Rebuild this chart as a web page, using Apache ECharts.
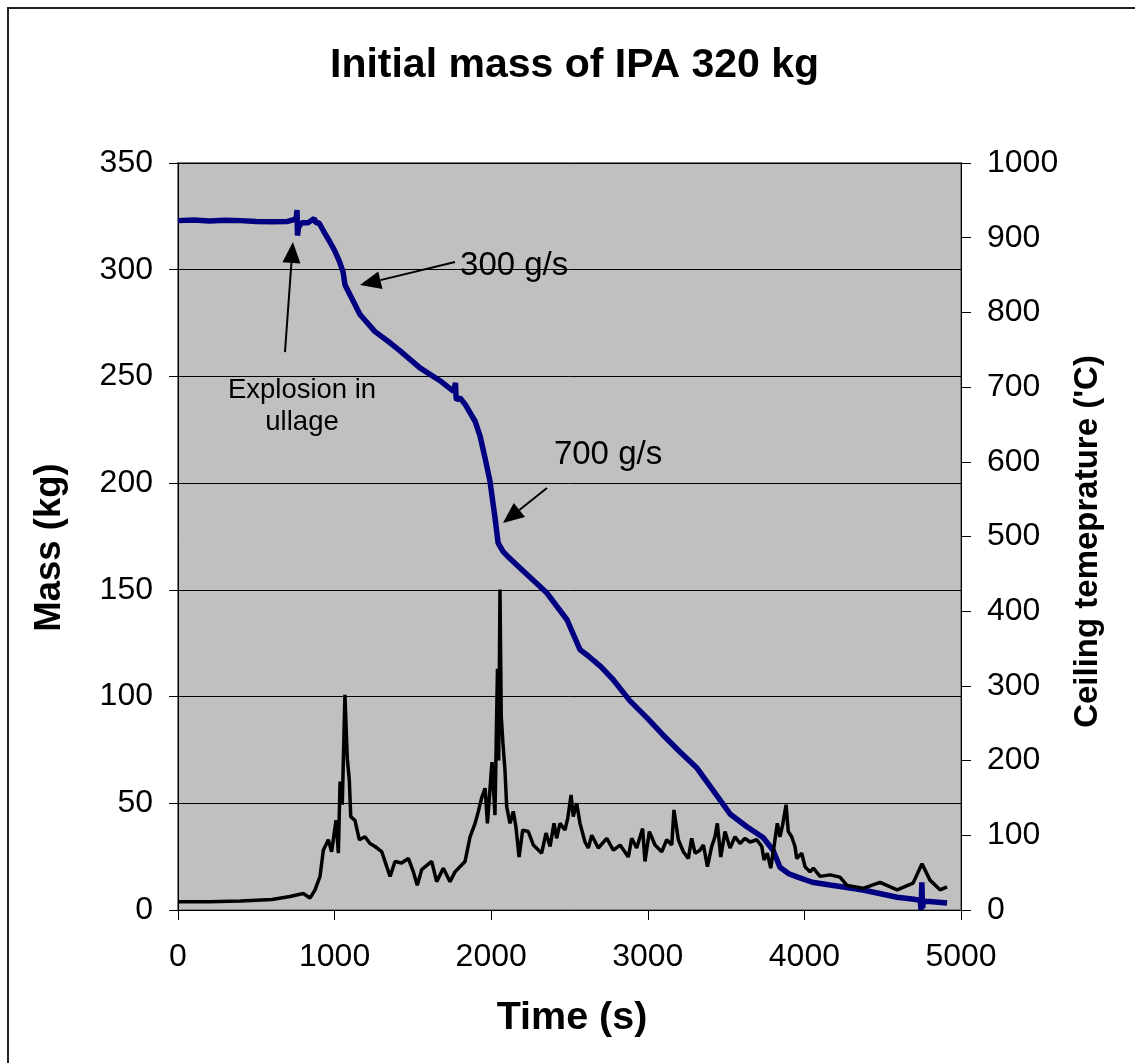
<!DOCTYPE html>
<html><head><meta charset="utf-8">
<script src="https://cdn.jsdelivr.net/npm/echarts@6/dist/echarts.min.js"></script>
<style>html,body{margin:0;padding:0;background:#fff}#c{width:1135px;height:1063px}</style>
</head><body><div id="c"></div>
<script>
const titleText = 'Initial mass of IPA 320 kg';
const xTicks = [0, 1000, 2000, 3000, 4000, 5000];
const massTicks = [0, 50, 100, 150, 200, 250, 300, 350];
const tempTicks = [0, 100, 200, 300, 400, 500, 600, 700, 800, 900, 1000];

const massTime = [0, 100, 200, 300, 400, 500, 600, 700, 740, 755, 760, 763, 770, 790, 830, 870, 880, 900, 930, 970, 1000, 1030, 1054, 1066, 1100, 1162, 1258, 1350, 1418, 1545, 1673, 1760, 1772, 1776, 1780, 1800, 1833, 1897, 1929, 1960, 1992, 2024, 2044, 2075, 2101, 2203, 2356, 2484, 2567, 2620, 2700, 2778, 2886, 2995, 3097, 3206, 3314, 3417, 3525, 3633, 3736, 3800, 3844, 3900, 3953, 4050, 4164, 4375, 4592, 4700, 4740, 4745, 4750, 4755, 4760, 4800, 4911];
const massKg = [323, 323.3, 322.8, 323.2, 323, 322.6, 322.5, 322.6, 323.5, 324, 328, 316, 320, 322, 322, 324, 322, 322, 318, 313, 309, 304, 299, 293, 288, 279, 271, 266, 262, 254, 248, 243, 247, 240, 239, 240, 237, 229, 222, 212, 201, 184, 172, 168, 166, 159, 148.5, 136, 122, 119, 114, 108, 98, 90, 82, 74, 66.5, 56, 45, 39, 34, 28, 20, 17, 15.5, 13, 11.7, 9.4, 6, 5, 4.5, 0, 13, 1, 4, 4, 3.3];

const tempTime = [0, 200, 400, 600, 715, 800, 843, 875, 907, 928, 960, 981, 1009, 1024, 1035, 1049, 1066, 1081, 1094, 1103, 1130, 1158, 1194, 1226, 1258, 1301, 1333, 1354, 1386, 1428, 1471, 1503, 1528, 1556, 1620, 1652, 1694, 1737, 1769, 1833, 1865, 1897, 1918, 1939, 1961, 1976, 2005, 2024, 2040, 2048, 2056, 2064, 2075, 2088, 2099, 2120, 2141, 2158, 2178, 2201, 2237, 2269, 2322, 2350, 2376, 2401, 2418, 2439, 2471, 2489, 2510, 2524, 2546, 2567, 2599, 2620, 2642, 2684, 2738, 2780, 2823, 2876, 2897, 2929, 2967, 2982, 3010, 3046, 3089, 3121, 3153, 3167, 3195, 3227, 3259, 3280, 3302, 3333, 3355, 3381, 3408, 3429, 3444, 3466, 3493, 3525, 3557, 3589, 3621, 3653, 3696, 3728, 3742, 3763, 3785, 3806, 3827, 3844, 3861, 3883, 3897, 3919, 3940, 3951, 3983, 4004, 4036, 4057, 4100, 4164, 4227, 4272, 4375, 4483, 4592, 4694, 4751, 4802, 4866, 4911];
const tempC = [11, 11, 12, 14, 18, 22, 16, 27, 45, 80, 94, 78, 120, 76, 172, 141, 288, 203, 174, 125, 120, 94, 98, 89, 85, 78, 58, 45, 65, 63, 69, 51, 33, 54, 65, 38, 56, 38, 51, 65, 98, 116, 132, 150, 163, 116, 198, 127, 323, 200, 429, 260, 223, 187, 138, 116, 132, 111, 71, 107, 105, 87, 76, 103, 85, 116, 96, 116, 107, 123, 154, 125, 143, 116, 91, 83, 100, 83, 96, 80, 87, 71, 96, 83, 109, 65, 105, 87, 78, 94, 87, 134, 94, 78, 69, 96, 76, 80, 87, 58, 85, 98, 116, 71, 105, 83, 98, 89, 96, 91, 94, 85, 67, 76, 56, 85, 116, 98, 114, 141, 105, 98, 85, 69, 76, 58, 51, 56, 45, 47, 44, 33, 29, 37, 27, 36, 62, 40, 27, 31];

const annotations = [
  {text: 'Explosion in', x: 792, y: 243.6, size: 27.5, align: 'center'},
  {text: 'ullage', x: 792, y: 228.6, size: 27.5, align: 'center'},
  {text: '300 g/s', x: 1801, y: 302, size: 33, align: 'left'},
  {text: '700 g/s', x: 2746, y: 213, size: 33, align: 'center'}
];
const arrows = [
  {from: [683, 261.4], to: [734, 313]},
  {from: [1769, 303.6], to: [1162, 292.8]},
  {from: [2356, 197.7], to: [2075, 181.3]}
];

const massData = massTime.map((t, i) => [t, massKg[i]]);
const tempData = tempTime.map((t, i) => [t, tempC[i]]);
const FONT = '"Liberation Sans", Arial, sans-serif';

const chart = echarts.init(document.getElementById('c'));
chart.setOption({
  animation: false,
  backgroundColor: '#fff',
  title: {text: titleText, left: 325, top: 40,
    textStyle: {fontFamily: FONT, fontSize: 41, fontWeight: 'bold', color: '#000'}},
  grid: {left: 178, right: 174, top: 163, bottom: 153, show: true,
    backgroundColor: '#C0C0C0', borderColor: '#808080', borderWidth: 2},
  xAxis: {type: 'value', min: 0, max: 5000, interval: 1000,
    name: 'Time (s)', nameLocation: 'middle', nameGap: 88,
    nameTextStyle: {fontFamily: FONT, fontSize: 39.5, fontWeight: 'bold', color: '#000', padding: [0, 0, 0, 5]},
    axisLine: {show: true, onZero: false, lineStyle: {color: '#000', width: 1}},
    axisTick: {show: true, inside: false, length: 10, lineStyle: {color: '#000'}},
    axisLabel: {fontFamily: FONT, fontSize: 32, color: '#000', margin: 31,
      formatter: v => xTicks.includes(v) ? String(v) : ''},
    splitLine: {show: false}},
  yAxis: [
    {type: 'value', min: 0, max: 350, interval: 50, position: 'left',
      name: 'Mass (kg)', nameLocation: 'middle', nameGap: 110, nameRotate: 90,
      nameTextStyle: {fontFamily: FONT, fontSize: 36.5, fontWeight: 'bold', color: '#000', padding: [0, 22, 0, 0]},
      axisLine: {show: true, lineStyle: {color: '#000', width: 1}},
      axisTick: {show: true, length: 9, lineStyle: {color: '#000'}},
      axisLabel: {fontFamily: FONT, fontSize: 32, color: '#000', margin: 25,
        formatter: v => massTicks.includes(v) ? String(v) : ''},
      splitLine: {show: true, lineStyle: {color: '#000', width: 1}}},
    {type: 'value', min: 0, max: 1000, interval: 100, position: 'right',
      name: "Ceiling temeprature ('C)", nameLocation: 'middle', nameGap: 110, nameRotate: 90,
      nameTextStyle: {fontFamily: FONT, fontSize: 33, fontWeight: 'bold', color: '#000', padding: [0, 10, 0, 0]},
      axisLine: {show: true, lineStyle: {color: '#000', width: 1}},
      axisTick: {show: true, length: 10, lineStyle: {color: '#000'}},
      axisLabel: {fontFamily: FONT, fontSize: 32, color: '#000', margin: 26,
        formatter: v => tempTicks.includes(v) ? String(v) : ''},
      splitLine: {show: false}}
  ],
  series: [
    {name: 'Mass', type: 'line', yAxisIndex: 0, data: massData, showSymbol: false,
      lineStyle: {color: '#000080', width: 5.5}, z: 2},
    {name: 'Temperature', type: 'line', yAxisIndex: 1, data: tempData, showSymbol: false,
      lineStyle: {color: '#000', width: 3.5}, z: 3}
  ]
});

function px(p) { return chart.convertToPixel({xAxisIndex: 0, yAxisIndex: 0}, p); }
const graphics = [{type: 'rect', shape: {x: 8, y: 8, width: 1300, height: 1300},
  style: {fill: 'none', stroke: '#222', lineWidth: 2}, silent: true, z: 0}];
annotations.forEach(a => {
  const p = px([a.x, a.y]);
  graphics.push({type: 'text', x: p[0], y: p[1], z: 10,
    style: {text: a.text, fontFamily: FONT, fontSize: a.size, fill: '#000',
      textAlign: a.align, textVerticalAlign: 'middle'}});
});
arrows.forEach(a => {
  const f = px(a.from), t = px(a.to);
  const dx = t[0] - f[0], dy = t[1] - f[1];
  const L = Math.hypot(dx, dy), ux = dx / L, uy = dy / L;
  const hl = 21, hw = 9;
  const bx = t[0] - ux * hl, by = t[1] - uy * hl;
  graphics.push({type: 'line', z: 10, shape: {x1: f[0], y1: f[1], x2: bx, y2: by},
    style: {stroke: '#000', lineWidth: 2}});
  graphics.push({type: 'polygon', z: 10, shape: {points: [[t[0], t[1]],
    [bx - uy * hw, by + ux * hw], [bx + uy * hw, by - ux * hw]]}, style: {fill: '#000'}});
});
chart.setOption({graphic: graphics});
</script></body></html>
